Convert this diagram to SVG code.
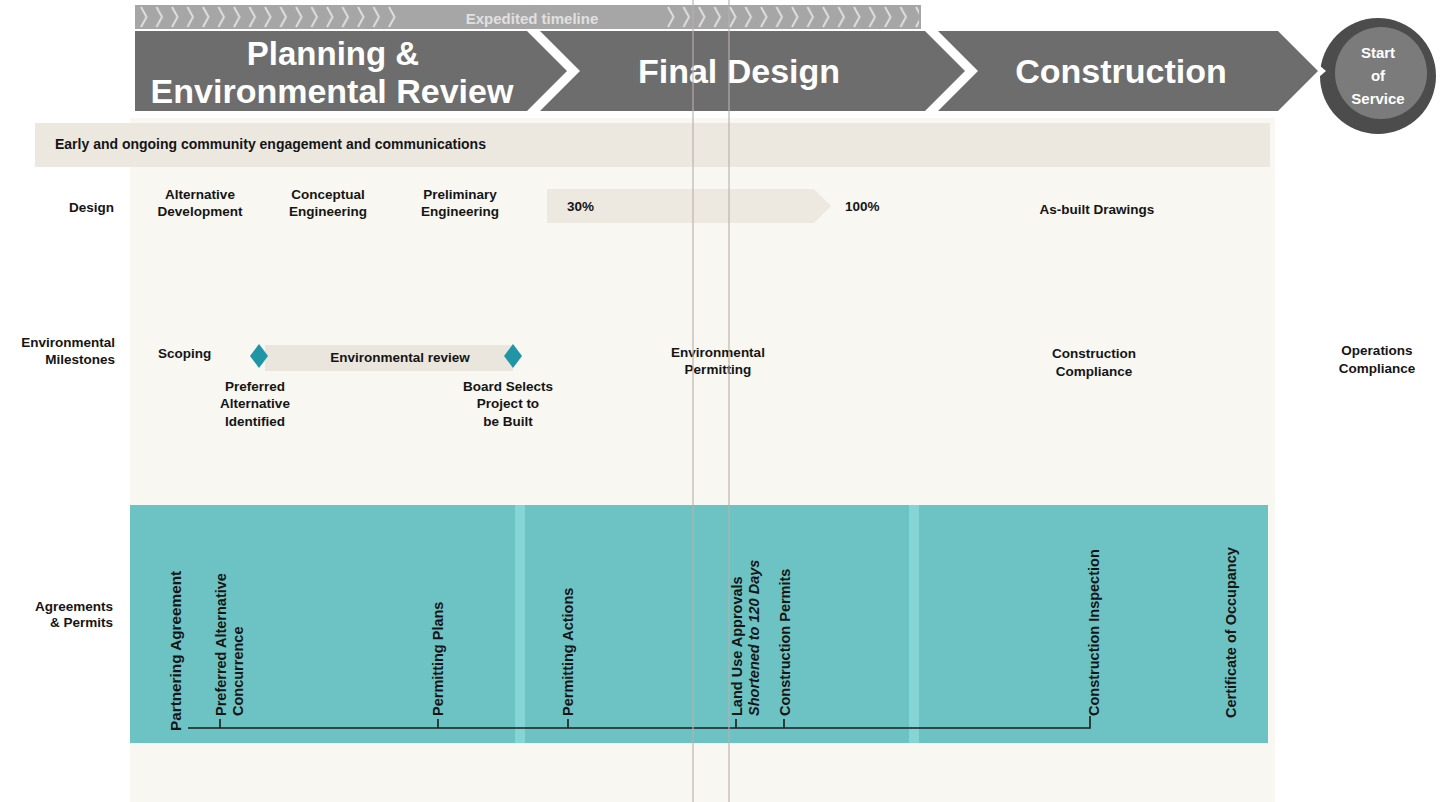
<svg xmlns="http://www.w3.org/2000/svg" width="1445" height="802" viewBox="0 0 1445 802">
<defs>
<style>
text{font-family:"Liberation Sans",Arial,sans-serif;font-weight:bold;fill:#151515}
.hdr{font-size:34px;fill:#ffffff;text-anchor:middle}
.lbl{font-size:13.5px}
.mid{text-anchor:middle}
.end{text-anchor:end}
.rot{font-size:14.5px}
.ms{fill:#1f95a6}
.tl{stroke:#1c1c1c;stroke-width:1.6;fill:none}
.fold{stroke:#b9b1ab;stroke-width:1.4;opacity:0.8}
</style>
<pattern id="chev" x="138" y="5" width="15.5" height="24" patternUnits="userSpaceOnUse">
<polyline points="3,2 8.5,12 3,22" fill="none" stroke="#e2e2e2" stroke-width="1.8"/>
</pattern>
</defs>
<rect width="1445" height="802" fill="#ffffff"/>
<rect x="130" y="118" width="1145" height="684" fill="#f8f7f2"/>

<g id="expedited-band">
<rect x="135" y="5" width="786" height="24" fill="#a6a6a6"/>
<rect x="138" y="5" width="265" height="24" fill="url(#chev)"/>
<rect x="665" y="5" width="254" height="24" fill="url(#chev)"/>
<text x="532" y="24" class="mid" style="font-size:15px;fill:#e0e0e0">Expedited timeline</text>
</g>

<g id="start-of-service">
<circle cx="1378" cy="76" r="58" fill="#4c4c4c"/>
<circle cx="1381" cy="73" r="46" fill="#7b7b7b"/>
<text x="1378" y="58" class="mid" style="font-size:15px;fill:#fff">Start</text>
<text x="1378" y="81" class="mid" style="font-size:15px;fill:#fff">of</text>
<text x="1378" y="104" class="mid" style="font-size:15px;fill:#fff">Service</text>
</g>

<g id="phase-planning">
<polygon points="135,31 527,31 567,71 527,111 135,111" fill="#6d6d6d"/>
<text x="333" y="65" class="hdr" style="font-size:33px">Planning &amp;</text>
<text x="332" y="103" class="hdr">Environmental Review</text>
</g>
<g id="phase-final-design">
<polygon points="540,31 925,31 965,71 925,111 540,111 580,71" fill="#6d6d6d"/>
<text x="739" y="83" class="hdr">Final Design</text>
</g>
<g id="phase-construction">
<polygon points="1272,25 1326,71 1272,117" fill="#ffffff"/>
<polygon points="938,31 1278,31 1318,71 1278,111 938,111 978,71" fill="#6d6d6d"/>
<text x="1121" y="83" class="hdr">Construction</text>
</g>

<g id="community">
<rect x="35" y="123" width="1235" height="44" fill="#ece8e0"/>
<text x="55" y="149" style="font-size:14px">Early and ongoing community engagement and communications</text>
</g>

<g id="design-row">
<text x="114" y="212" class="lbl end">Design</text>
<text x="200" y="199" class="lbl mid">Alternative</text>
<text x="200" y="216" class="lbl mid">Development</text>
<text x="328" y="199" class="lbl mid">Conceptual</text>
<text x="328" y="216" class="lbl mid">Engineering</text>
<text x="460" y="199" class="lbl mid">Preliminary</text>
<text x="460" y="216" class="lbl mid">Engineering</text>
<polygon points="547,189 814,189 831,206 814,223 547,223" fill="#ede9e1"/>
<text x="567" y="211" class="lbl">30%</text>
<text x="845" y="211" class="lbl">100%</text>
<text x="1097" y="214" class="lbl mid">As-built Drawings</text>
</g>

<g id="env-row">
<text x="115" y="347" class="lbl end">Environmental</text>
<text x="115" y="364" class="lbl end">Milestones</text>
<text x="158" y="358" class="lbl">Scoping</text>
<rect x="265" y="345" width="248" height="26" fill="#ebe6dd"/>
<text x="400" y="362" class="lbl mid">Environmental review</text>
<polygon points="259,344 268,356 259,368 250,356" class="ms"/>
<polygon points="513,344 522,356 513,368 504,356" class="ms"/>
<text x="255" y="391" class="lbl mid">Preferred</text>
<text x="255" y="408" class="lbl mid">Alternative</text>
<text x="255" y="426" class="lbl mid">Identified</text>
<text x="508" y="391" class="lbl mid">Board Selects</text>
<text x="508" y="408" class="lbl mid">Project to</text>
<text x="508" y="426" class="lbl mid">be Built</text>
<text x="718" y="357" class="lbl mid">Environmental</text>
<text x="718" y="374" class="lbl mid">Permitting</text>
<text x="1094" y="358" class="lbl mid">Construction</text>
<text x="1094" y="376" class="lbl mid">Compliance</text>
<text x="1377" y="355" class="lbl mid">Operations</text>
<text x="1377" y="373" class="lbl mid">Compliance</text>
</g>

<g id="agreements-row">
<rect x="130" y="505" width="1138" height="238" fill="#6dc3c4"/>
<rect x="515" y="505" width="10" height="238" fill="#86d5d6"/>
<rect x="909" y="505" width="10" height="238" fill="#86d5d6"/>
<text x="113" y="611" class="lbl end">Agreements</text>
<text x="113" y="627" class="lbl end">&amp; Permits</text>
<text transform="translate(181,731) rotate(-90)" style="font-size:15.3px">Partnering Agreement</text>
<text transform="translate(226,716) rotate(-90)" class="rot">Preferred Alternative</text>
<text transform="translate(243,716) rotate(-90)" class="rot">Concurrence</text>
<text transform="translate(443,716) rotate(-90)" class="rot">Permitting Plans</text>
<text transform="translate(573,716) rotate(-90)" class="rot">Permitting Actions</text>
<text transform="translate(742,716) rotate(-90)" class="rot">Land Use Approvals</text>
<text transform="translate(759,716) rotate(-90)" class="rot" font-style="italic">Shortened to 120 Days</text>
<text transform="translate(790,716) rotate(-90)" class="rot">Construction Permits</text>
<text transform="translate(1099,716) rotate(-90)" class="rot">Construction Inspection</text>
<text transform="translate(1236,718) rotate(-90)" class="rot">Certificate of Occupancy</text>
</g>

<g id="connectors">
<path class="tl" d="M188,728 H1090 V716 M220,728 V719 M438,728 V719 M568,728 V719 M736,728 V719 M784,728 V719"/>
</g>

<g id="fold-lines">
<line x1="693" y1="0" x2="693" y2="802" class="fold"/>
<line x1="729" y1="0" x2="729" y2="802" class="fold"/>
</g>
</svg>
